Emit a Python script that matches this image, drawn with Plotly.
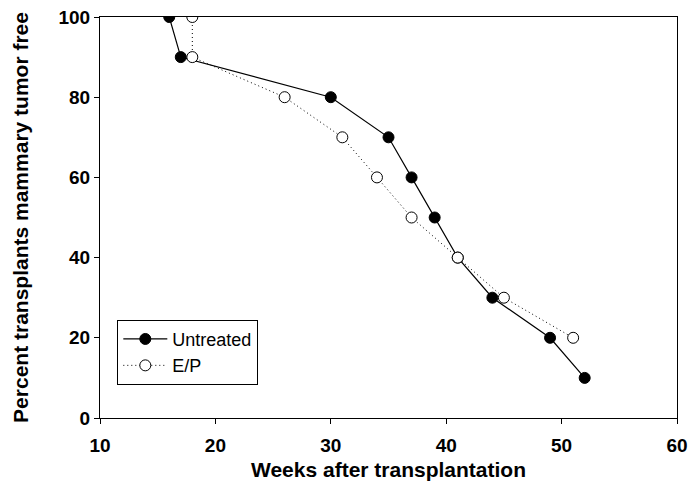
import plotly.graph_objects as go

# Weeks after transplantation vs. percent of transplants free of mammary tumor
untreated_weeks = [16, 17, 30, 35, 37, 39, 41, 44, 49, 52]
untreated_pct = [100, 90, 80, 70, 60, 50, 40, 30, 20, 10]

ep_weeks = [18, 18, 26, 31, 34, 37, 41, 45, 51]
ep_pct = [100, 90, 80, 70, 60, 50, 40, 30, 20]

x_ticks = [10, 20, 30, 40, 50, 60]
y_ticks = [0, 20, 40, 60, 80, 100]

FONT = "Liberation Sans, Arial, sans-serif"

fig = go.Figure()
fig.add_trace(go.Scatter(
    x=untreated_weeks, y=untreated_pct, name="Untreated",
    mode="lines+markers",
    line=dict(color="black", width=1.2),
    marker=dict(symbol="circle", size=11, color="black",
                line=dict(color="black", width=1)),
))
fig.add_trace(go.Scatter(
    x=ep_weeks, y=ep_pct, name="E/P",
    mode="lines+markers",
    line=dict(color="black", width=1, dash="1px,3px"),
    marker=dict(symbol="circle", size=11, color="white",
                line=dict(color="black", width=1)),
))

axis_common = dict(
    showgrid=False, zeroline=False, showline=True, mirror=True,
    linecolor="black", linewidth=1, automargin=False,
    ticks="outside", ticklen=5, tickcolor="black", tickwidth=1,
    tickfont=dict(family=FONT, size=19, color="black", weight="bold"),
)

fig.update_xaxes(
    range=[10, 60], tickvals=x_ticks, ticklabelstandoff=5,
    title=dict(text="Weeks after transplantation",
               font=dict(family=FONT, size=21, color="black", weight="bold"),
               standoff=7),
    **axis_common,
)
fig.update_yaxes(
    range=[0, 100], tickvals=y_ticks,
    title=dict(text="Percent transplants mammary tumor free",
               font=dict(family=FONT, size=21, color="black", weight="bold"),
               standoff=24),
    **axis_common,
)

fig.update_layout(
    width=689, height=488,
    margin=dict(l=100, r=12, t=17, b=70),
    paper_bgcolor="white", plot_bgcolor="white",
    showlegend=True,
    legend=dict(
        x=0.03, y=0.245, xanchor="left", yanchor="top",
        bgcolor="white", bordercolor="black", borderwidth=1,
        font=dict(family=FONT, size=18, color="black"),
        tracegroupgap=0, itemwidth=44,
    ),
)

fig.write_html("out.html")
